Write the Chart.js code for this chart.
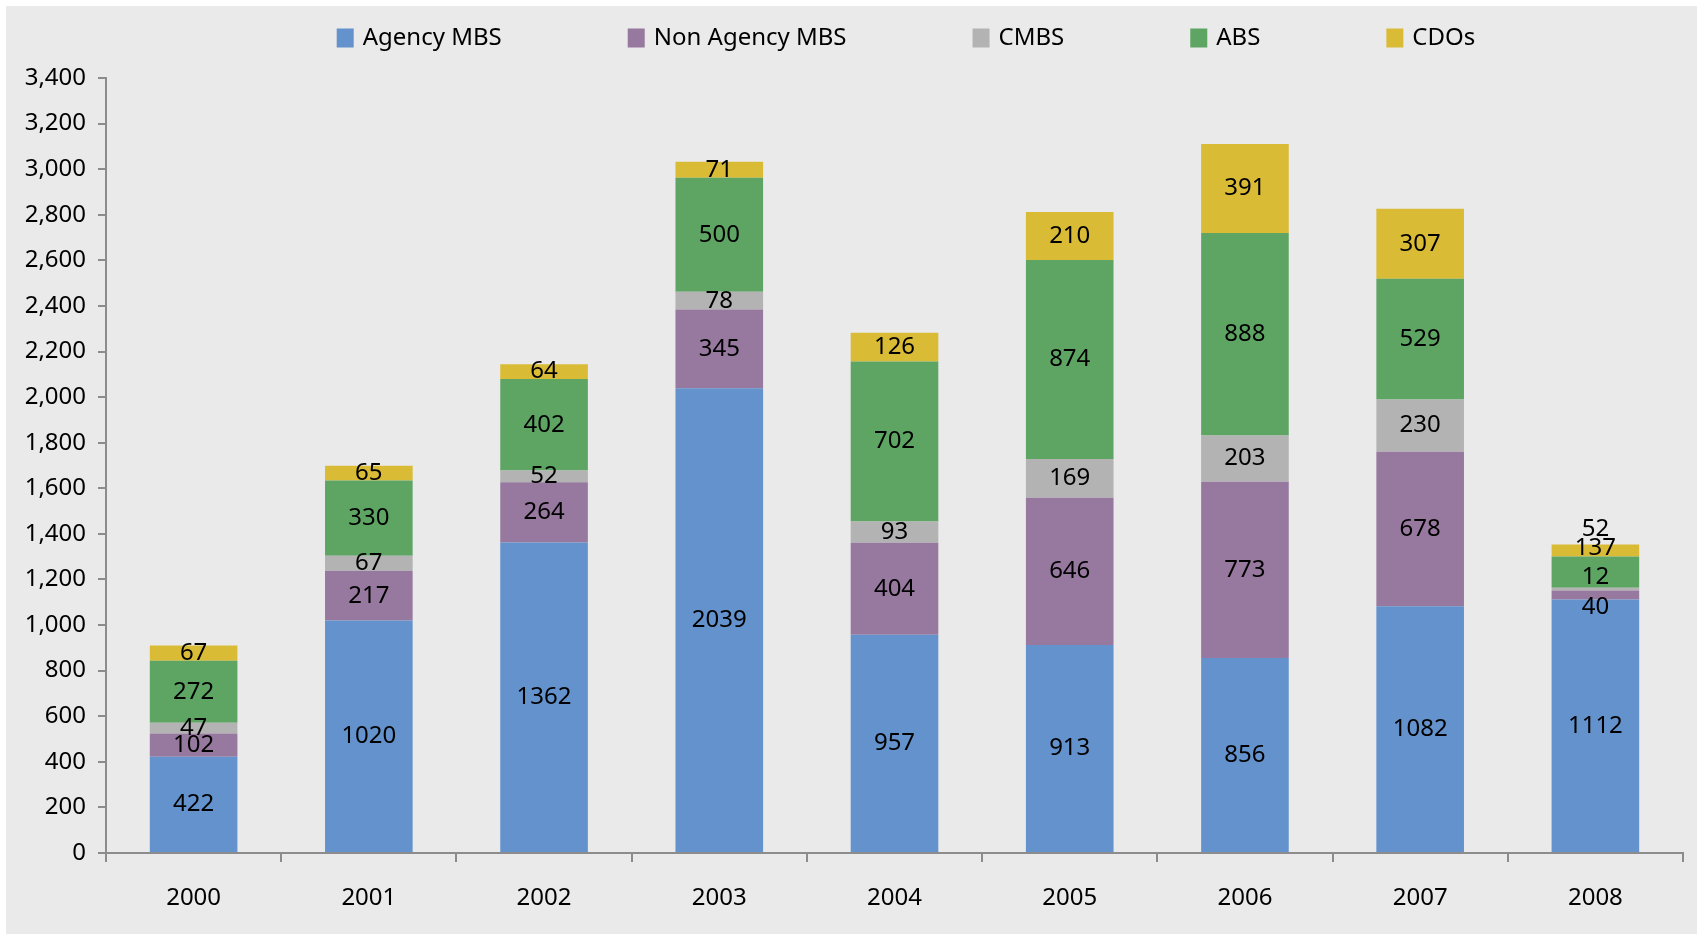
<!DOCTYPE html>
<html>
<head>
<meta charset="utf-8">
<script src="https://cdn.jsdelivr.net/npm/chart.js@4.4.0/dist/chart.umd.min.js"></script>
<style>
  html, body { margin: 0; padding: 0; background: #fff; }
  #panel { position: absolute; left: 6px; top: 6px; width: 1691px; height: 928px; background: #eaeaea; }
</style>
</head>
<body>
<div id="panel"><canvas id="issuance" width="1691" height="928"></canvas></div>
<script>
var years = ["2000", "2001", "2002", "2003", "2004", "2005", "2006", "2007", "2008"];
var agencyMbs = [422, 1020, 1362, 2039, 957, 913, 856, 1082, 1112];
var nonAgencyMbs = [102, 217, 264, 345, 404, 646, 773, 678, 40];
var cmbs = [47, 67, 52, 78, 93, 169, 203, 230, 12];
var abs = [272, 330, 402, 500, 702, 874, 888, 529, 137];
var cdos = [67, 65, 64, 71, 126, 210, 391, 307, 52];

var FONT = "'Noto Sans', sans-serif";

// excel moved the crowded 2008 labels around, copy that
var labelNudge = { 8: [0, 12, -12, -24, -21] };

var topLegend = {
  id: "topLegend",
  afterDraw: function(chart) {
    var ctx = chart.ctx;
    var sets = chart.data.datasets;
    ctx.save();
    ctx.font = "24px " + FONT;
    ctx.textBaseline = "middle";
    var box = 17, gap = 9, spacing = 126;
    var widths = sets.map(function(ds) { return box + gap + ctx.measureText(ds.label).width; });
    var total = widths.reduce(function(a, b) { return a + b; }, 0) + spacing * (sets.length - 1);
    var x = 900 - total / 2;
    var y = 32;
    sets.forEach(function(ds, i) {
      ctx.fillStyle = ds.backgroundColor;
      ctx.fillRect(x, y - 9.5, box, 19);
      ctx.fillStyle = "#000";
      ctx.fillText(ds.label, x + box + gap, y);
      x += widths[i] + spacing;
    });
    ctx.restore();
  }
};

var segmentLabels = {
  id: "segmentLabels",
  afterDatasetsDraw: function(chart) {
    var ctx = chart.ctx;
    ctx.save();
    ctx.font = "24px " + FONT;
    ctx.fillStyle = "#000";
    ctx.textAlign = "center";
    ctx.textBaseline = "middle";
    chart.data.datasets.forEach(function(ds, di) {
      var meta = chart.getDatasetMeta(di);
      meta.data.forEach(function(bar, i) {
        var dy = labelNudge[i] ? labelNudge[i][di] : 0;
        ctx.fillText(String(ds.data[i]), bar.x, (bar.y + bar.base) / 2 + dy);
      });
    });
    ctx.restore();
  }
};

var ctx = document.getElementById("issuance").getContext("2d");
var chart = new Chart(ctx, {
  type: "bar",
  data: {
    labels: years,
    datasets: [
      { label: "Agency MBS", data: agencyMbs, backgroundColor: "#6392cc" },
      { label: "Non Agency MBS", data: nonAgencyMbs, backgroundColor: "#97789f" },
      { label: "CMBS", data: cmbs, backgroundColor: "#b3b3b3" },
      { label: "ABS", data: abs, backgroundColor: "#5ea564" },
      { label: "CDOs", data: cdos, backgroundColor: "#d9bb36" }
    ]
  },
  options: {
    responsive: false,
    animation: false,
    layout: { padding: { top: 72, right: 14, left: 0, bottom: 0 } },
    datasets: { bar: { categoryPercentage: 1, barPercentage: 0.5 } },
    plugins: {
      legend: { display: false },
      tooltip: { enabled: false }
    },
    scales: {
      x: {
        stacked: true,
        grid: { offset: true, drawOnChartArea: false, drawTicks: true, tickLength: 9, color: "#8c8c8c", lineWidth: 2 },
        border: { color: "#8c8c8c", width: 2 },
        ticks: { color: "#000", font: { family: FONT, size: 24 }, padding: 22 },
        afterFit: function(scale) { scale.height = 81; }
      },
      y: {
        stacked: true,
        min: 0,
        max: 3400,
        grid: { drawOnChartArea: false, drawTicks: true, tickLength: 8, color: "#8c8c8c", lineWidth: 2 },
        border: { color: "#8c8c8c", width: 2 },
        ticks: {
          stepSize: 200,
          color: "#000",
          font: { family: FONT, size: 24 },
          padding: 12,
          callback: function(v) { return v.toLocaleString("en-US"); }
        },
        afterFit: function(scale) { scale.width = 100; }
      }
    }
  },
  plugins: [topLegend, segmentLabels]
});
</script>
</body>
</html>
